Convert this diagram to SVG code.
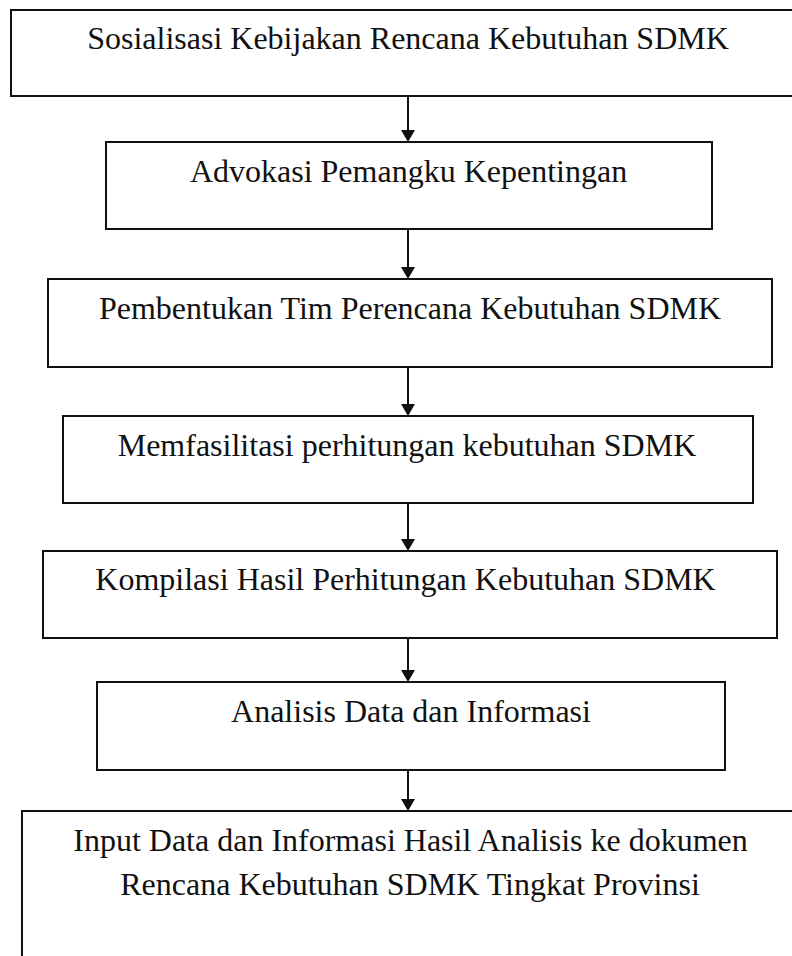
<svg xmlns="http://www.w3.org/2000/svg" width="792" height="956" viewBox="0 0 792 956">
<style>
.box{fill:#fff;stroke:#111;stroke-width:2}
.lbl{font-family:"Liberation Serif","Times New Roman",serif;font-size:32px;fill:#111;text-anchor:middle}
.conn line{stroke:#111;stroke-width:2}
.conn polygon{fill:#111}
</style>
<rect width="792" height="956" fill="#fff"/>
<g id="n1"><rect class="box" x="11" y="10" width="800" height="86"/><text class="lbl" x="408" y="49">Sosialisasi Kebijakan Rencana Kebutuhan SDMK</text></g>
<g id="n2"><rect class="box" x="106" y="142" width="606" height="87"/><text class="lbl" x="408.5" y="182">Advokasi Pemangku Kepentingan</text></g>
<g id="n3"><rect class="box" x="48" y="279" width="724" height="88"/><text class="lbl" x="410" y="319">Pembentukan Tim Perencana Kebutuhan SDMK</text></g>
<g id="n4"><rect class="box" x="63" y="416" width="690" height="87"/><text class="lbl" x="407" y="456">Memfasilitasi perhitungan kebutuhan SDMK</text></g>
<g id="n5"><rect class="box" x="43" y="551" width="734" height="87"/><text class="lbl" x="405.5" y="590">Kompilasi Hasil Perhitungan Kebutuhan SDMK</text></g>
<g id="n6"><rect class="box" x="97" y="682" width="628" height="88"/><text class="lbl" x="411" y="722">Analisis Data dan Informasi</text></g>
<g id="n7"><rect class="box" x="22" y="811" width="800" height="200"/><text class="lbl" x="410.5" y="851">Input Data dan Informasi Hasil Analisis ke dokumen</text><text class="lbl" x="410" y="895">Rencana Kebutuhan SDMK Tingkat Provinsi</text></g>
<g id="connectors" class="conn">
<line x1="408" y1="96" x2="408" y2="131"/><polygon points="401,130 415,130 408,142"/>
<line x1="408" y1="229" x2="408" y2="268"/><polygon points="401,267 415,267 408,279"/>
<line x1="408" y1="367" x2="408" y2="405"/><polygon points="401,404 415,404 408,416"/>
<line x1="408" y1="503" x2="408" y2="540"/><polygon points="401,539 415,539 408,551"/>
<line x1="408" y1="638" x2="408" y2="671"/><polygon points="401,670 415,670 408,682"/>
<line x1="408" y1="770" x2="408" y2="800"/><polygon points="401,799 415,799 408,811"/>
</g>
</svg>
